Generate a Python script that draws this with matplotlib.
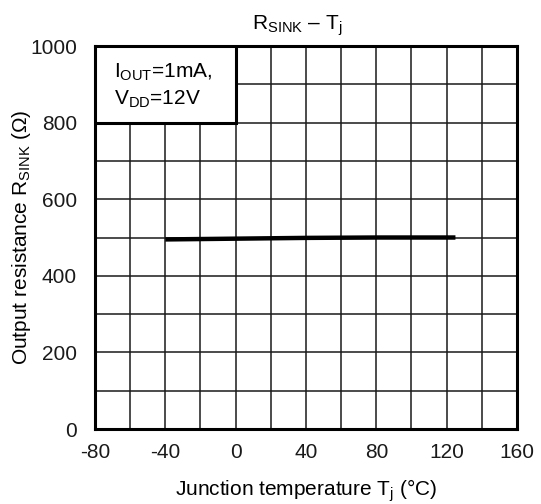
import matplotlib
matplotlib.use("Agg")
import matplotlib.pyplot as plt
from matplotlib.patches import Rectangle
from matplotlib.ticker import MultipleLocator

plt.rcParams['font.family'] = ['Liberation Sans', 'DejaVu Sans']
plt.rcParams['mathtext.fontset'] = 'custom'
plt.rcParams['mathtext.rm'] = 'Liberation Sans'
plt.rcParams['mathtext.it'] = 'Liberation Sans'
plt.rcParams['mathtext.default'] = 'rm'
plt.rcParams['axes.unicode_minus'] = False

# Output resistance vs junction temperature
temp_c = [-40, 0, 40, 80, 125]
r_sink = [495, 497, 499, 500, 500]

x_ticks = [-80, -40, 0, 40, 80, 120, 160]
y_ticks = [0, 200, 400, 600, 800, 1000]

FS = 15

fig = plt.figure(figsize=(5.41, 5.04), dpi=100)
ax = fig.add_axes([0.1756, 0.1488, 0.7800, 0.7599])

ax.set_xlim(-80, 160)
ax.set_ylim(0, 1000)
ax.set_xticks(x_ticks)
ax.set_yticks(y_ticks)
ax.xaxis.set_minor_locator(MultipleLocator(20))
ax.yaxis.set_minor_locator(MultipleLocator(100))
ax.grid(which='both', color='#1a1a1a', linewidth=1.1)
ax.set_axisbelow(True)
ax.tick_params(which='both', length=0, labelsize=FS, colors='#1a1a1a')
ax.tick_params(axis='y', pad=13)
ax.tick_params(axis='x', pad=10)
for sp in ax.spines.values():
    sp.set_linewidth(2.2)
    sp.set_color('black')

ax.plot(temp_c, r_sink, color='black', linewidth=3.2, solid_capstyle='butt', zorder=3)

# condition box in the upper-left corner
ax.add_patch(Rectangle((-80, 800), 80, 200, facecolor='white', edgecolor='black',
                       linewidth=2.2, zorder=4))
ax.text(-69, 930, r'I$_{OUT}$=1mA,', fontsize=FS, va='center', ha='left', zorder=5)
ax.text(-69, 862, r'V$_{DD}$=12V', fontsize=FS, va='center', ha='left', zorder=5)

ax.set_title(r'R$_{SINK}$ – T$_{j}$', fontsize=FS, pad=12, x=0.48)
ax.set_xlabel(r'Junction temperature T$_{j}$ (°C)', fontsize=FS, labelpad=11)
ax.set_ylabel(r'Output resistance R$_{SINK}$ (Ω)', fontsize=FS)
ax.yaxis.set_label_coords(-0.148, 0.5)

fig.savefig('out.png', dpi=100)
